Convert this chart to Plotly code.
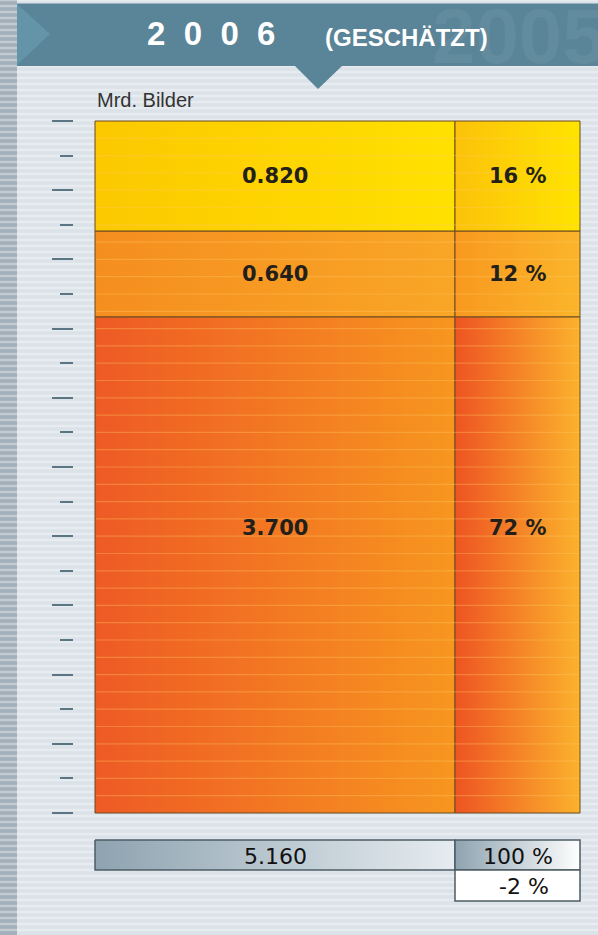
'''
Stacked column of image volume (Mrd. Bilder) with share column and total box.
'''

import plotly.graph_objects as go


# data, bottom segment first
segments = ['Segment C', 'Segment B', 'Segment A']
values = [3.700, 0.640, 0.820]
shares = [72, 12, 16]
change = -2
year = '2006'
year_note = '(GESCHÄTZT)'
ghost_year = '2005'
unit = 'Mrd. Bilder'

# gradient colours (left -> right) for value column and share column
VALUE_COLORS = [('#ee5a25', '#f7961f'), ('#f58e1f', '#f9a626'), ('#fcc800', '#ffe100')]
SHARE_COLORS = [('#ee5422', '#fbb22c'), ('#f8991f', '#fbb52a'), ('#fcc20a', '#ffe400')]
LABEL_FRAC = [0.575, 0.5, 0.5]

W, H = 598, 935
X0, XM, X1 = 95, 455, 580
Y_TOP, Y_BASE = 121, 813
BG = '#dbe2e8'
HEADER = '#5a8497'
INK = '#231f1b'


def box(x0, x1, y0, y1, colors, yaxis='y', line='#6a4a20', width=1):
    '''
    Rectangle as a closed scatter polygon with a horizontal gradient fill.
    '''
    return go.Scatter(
        x = [x0, x1, x1, x0, x0],
        y = [y0, y0, y1, y1, y0],
        yaxis = yaxis,
        mode = 'lines',
        fill = 'toself',
        fillgradient = dict(type='horizontal', colorscale=[[0, colors[0]], [1, colors[1]]]),
        line = dict(color=line, width=width),
        hoverinfo = 'skip',
        showlegend = False
    )


total = sum(values)
scale = (Y_BASE - Y_TOP) / total

fig = go.Figure()

# stacked segments
base = 0.0
bases = []
for v, vc, sc in zip(values, VALUE_COLORS, SHARE_COLORS):
    bases.append(base)
    fig.add_trace(box(X0, XM, base, base + v, vc))
    fig.add_trace(box(XM, X1, base, base + v, sc))
    base += v

# total and change boxes (pixel axis)
fig.add_trace(box(X0, XM, 840, 870, ('#8ea3b0', '#e6ecf0'), 'y2', '#4e5c64', 1.5))
fig.add_trace(box(XM, X1, 840, 870, ('#8ea3b0', '#ffffff'), 'y2', '#4e5c64', 1.5))
fig.add_trace(box(XM, X1, 870, 901, ('#ffffff', '#ffffff'), 'y2', '#4e5c64', 1.5))

shapes = []
# left strip
shapes.append(dict(type='rect', xref='x', yref='y2', x0=0, x1=17, y0=0, y1=H,
                   fillcolor='#a1b0bb', line_width=0, layer='below'))
# background stripes
for p in range(0, H, 6):
    shapes.append(dict(type='line', xref='x', yref='y2', x0=0, x1=W, y0=p, y1=p,
                       line=dict(color='rgba(255,255,255,0.35)', width=2.5), layer='below'))
# header band, arrow and pointer
shapes.append(dict(type='rect', xref='x', yref='y2', x0=17, x1=W, y0=3.5, y1=66,
                   fillcolor=HEADER, line_width=0, layer='below'))
shapes.append(dict(type='path', xref='x', yref='y2', path='M 17 4 L 50 34 L 17 65 Z',
                   fillcolor='#6494a7', line_width=0, layer='below'))
shapes.append(dict(type='path', xref='x', yref='y2', path='M 294 65 L 343 65 L 318 89 Z',
                   fillcolor=HEADER, line_width=0, layer='below'))
# light stripes across the column
for k in range(1, 40):
    shapes.append(dict(type='line', xref='x', yref='y', x0=X0 + 1, x1=X1 - 1,
                       y0=k * total / 40, y1=k * total / 40,
                       line=dict(color='rgba(255,200,100,0.35)', width=1.2), layer='above'))

annotations = [
    dict(x=430, y=36, xref='x', yref='y2', text=f'<b>{ghost_year}</b>', showarrow=False,
         xanchor='left', yanchor='middle',
         font=dict(family='Liberation Sans', size=78, color='#628b9d')),
    dict(x=211, y=33, xref='x', yref='y2', text='<b>' + '\u00a0\u00a0'.join(year) + '</b>',
         showarrow=False, xanchor='center', yanchor='middle',
         font=dict(family='Liberation Sans', size=33, color='white')),
    dict(x=406, y=37, xref='x', yref='y2', text=f'<b>{year_note}</b>', showarrow=False,
         xanchor='center', yanchor='middle',
         font=dict(family='Liberation Sans Narrow, Liberation Sans', size=24, color='white')),
    dict(x=X0, y=100, xref='x', yref='y2', text=unit, showarrow=False,
         xanchor='left', yanchor='middle',
         font=dict(family='Liberation Sans Narrow, Liberation Sans', size=20, color='#333333')),
]
for v, b, s, f in zip(values, bases, shares, LABEL_FRAC):
    yy = b + v * f
    annotations.append(dict(x=(X0 + XM) / 2, y=yy, xref='x', yref='y', text=f'<b>{v:.3f}</b>',
                            showarrow=False, font=dict(family='DejaVu Sans', size=21, color=INK)))
    annotations.append(dict(x=(XM + X1) / 2, y=yy, xref='x', yref='y', text=f'<b>{s} %</b>',
                            showarrow=False, font=dict(family='DejaVu Sans', size=21, color=INK)))
annotations.append(dict(x=(X0 + XM) / 2, y=856, xref='x', yref='y2', text=f'{total:.3f}',
                        showarrow=False, font=dict(family='DejaVu Sans', size=22, color='#111111')))
annotations.append(dict(x=(XM + X1) / 2, y=856, xref='x', yref='y2', text=f'{sum(shares)} %',
                        showarrow=False, font=dict(family='DejaVu Sans', size=22, color='#111111')))
annotations.append(dict(x=(XM + X1) / 2 + 6, y=886, xref='x', yref='y2', text=f'{change} %',
                        showarrow=False, font=dict(family='DejaVu Sans', size=22, color='#111111')))

fig.update_layout(
    width = W,
    height = H,
    margin = dict(l=0, r=0, t=0, b=0),
    paper_bgcolor = BG,
    plot_bgcolor = BG,
    showlegend = False,
    shapes = shapes,
    annotations = annotations,
    xaxis = dict(range=[0, W], visible=False, fixedrange=True),
    yaxis = dict(
        range = [-(H - Y_BASE) / scale, Y_BASE / scale],
        anchor = 'free',
        position = 73 / W,
        showgrid = False,
        zeroline = False,
        showline = False,
        showticklabels = False,
        ticks = 'outside',
        tickmode = 'array',
        tickvals = [k * total / 10 for k in range(11)],
        ticklen = 21,
        tickwidth = 2,
        tickcolor = '#5b7682',
        minor = dict(tickmode='array', tickvals=[(k + 0.5) * total / 10 for k in range(10)],
                     ticks='outside', ticklen=13, tickwidth=2, tickcolor='#5b7682'),
        fixedrange = True
    ),
    yaxis2 = dict(range=[H, 0], overlaying='y', visible=False, fixedrange=True)
)

fig.write_html('out.html', config={'displayModeBar': False},
               post_script="document.body.style.margin='0';document.body.style.overflow='hidden';")
